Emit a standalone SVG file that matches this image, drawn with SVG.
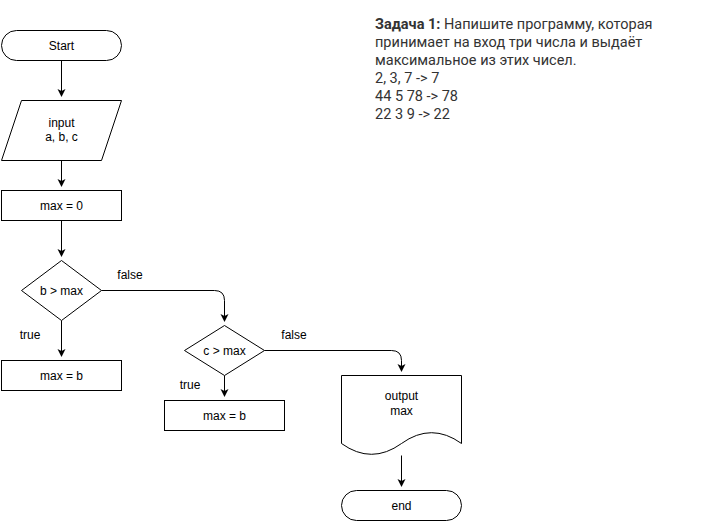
<svg xmlns="http://www.w3.org/2000/svg" width="701" height="521" viewBox="0 0 701 521">
<defs>
<marker id="arr" markerWidth="10" markerHeight="10" refX="7" refY="4" orient="auto" markerUnits="userSpaceOnUse">
<path d="M0,0 L8,4 L0,8 L2,4 Z" fill="#000"/>
</marker>
</defs>
<style>
.s{fill:#fff;stroke:#000;stroke-width:1}
.t{font-family:"Liberation Sans",Arial,sans-serif;font-size:12px;fill:#000;text-anchor:middle}
.e{fill:none;stroke:#000;stroke-width:1}
.d{font-family:Roboto,"Noto Sans",sans-serif;font-size:14.5px;fill:#333}
</style>
<rect width="701" height="521" fill="#fff"/>
<g id="edges">
<path class="e" d="M61.5,60.5 V96" marker-end="url(#arr)"/>
<path class="e" d="M61.5,160.5 V186" marker-end="url(#arr)"/>
<path class="e" d="M61.5,220.5 V256" marker-end="url(#arr)"/>
<path class="e" d="M61.5,320.5 V356" marker-end="url(#arr)"/>
<path class="e" d="M101.5,290.5 H214.5 Q224.5,290.5 224.5,300.5 V321" marker-end="url(#arr)"/>
<path class="e" d="M224.5,375.5 V396" marker-end="url(#arr)"/>
<path class="e" d="M264.5,350.5 H391.5 Q401.5,350.5 401.5,360.5 V371" marker-end="url(#arr)"/>
<path class="e" d="M401.5,455.5 V486" marker-end="url(#arr)"/>
<text class="t" x="30" y="339">true</text>
<text class="t" x="130" y="279">false</text>
<text class="t" x="190" y="389">true</text>
<text class="t" x="294" y="339">false</text>
</g>
<g id="start">
<rect class="s" x="1.5" y="30.5" width="120" height="30" rx="15"/>
<text class="t" x="61.5" y="49.5">Start</text>
</g>
<g id="input">
<path class="s" d="M21.5,100.5 H121.5 L101.5,160.5 H1.5 Z"/>
<text class="t" x="61.5" y="127">input</text>
<text class="t" x="61.5" y="141">a, b, c</text>
</g>
<g id="init">
<rect class="s" x="1.5" y="190.5" width="120" height="30"/>
<text class="t" x="61.5" y="209.5">max = 0</text>
</g>
<g id="cond1">
<path class="s" d="M61.5,260.5 L101.5,290.5 L61.5,320.5 L21.5,290.5 Z"/>
<text class="t" x="61.5" y="294.5">b &gt; max</text>
</g>
<g id="assign1">
<rect class="s" x="1.5" y="360.5" width="120" height="30"/>
<text class="t" x="61.5" y="379.5">max = b</text>
</g>
<g id="cond2">
<path class="s" d="M224.5,325.5 L264.5,350.5 L224.5,375.5 L184.5,350.5 Z"/>
<text class="t" x="224.5" y="354.5">c &gt; max</text>
</g>
<g id="assign2">
<rect class="s" x="164.5" y="400.5" width="120" height="30"/>
<text class="t" x="224.5" y="419.5">max = b</text>
</g>
<g id="output">
<path class="s" d="M341.5,375.5 H461.5 V443.5 Q431.5,421.9 401.5,443.5 Q371.5,465.1 341.5,443.5 Z"/>
<text class="t" x="401.5" y="400">output</text>
<text class="t" x="401.5" y="415">max</text>
</g>
<g id="end">
<rect class="s" x="341.5" y="490.5" width="120" height="30" rx="15"/>
<text class="t" x="401.5" y="509.5">end</text>
</g>
<g id="task">
<text class="d" x="375" y="29"><tspan font-weight="bold">Задача 1:</tspan> Напишите программу, которая</text>
<text class="d" x="375" y="47">принимает на вход три числа и выдаёт</text>
<text class="d" x="375" y="65">максимальное из этих чисел.</text>
<text class="d" x="375" y="83">2, 3, 7 -&gt; 7</text>
<text class="d" x="375" y="101">44 5 78 -&gt; 78</text>
<text class="d" x="375" y="119">22 3 9 -&gt; 22</text>
</g>
</svg>
